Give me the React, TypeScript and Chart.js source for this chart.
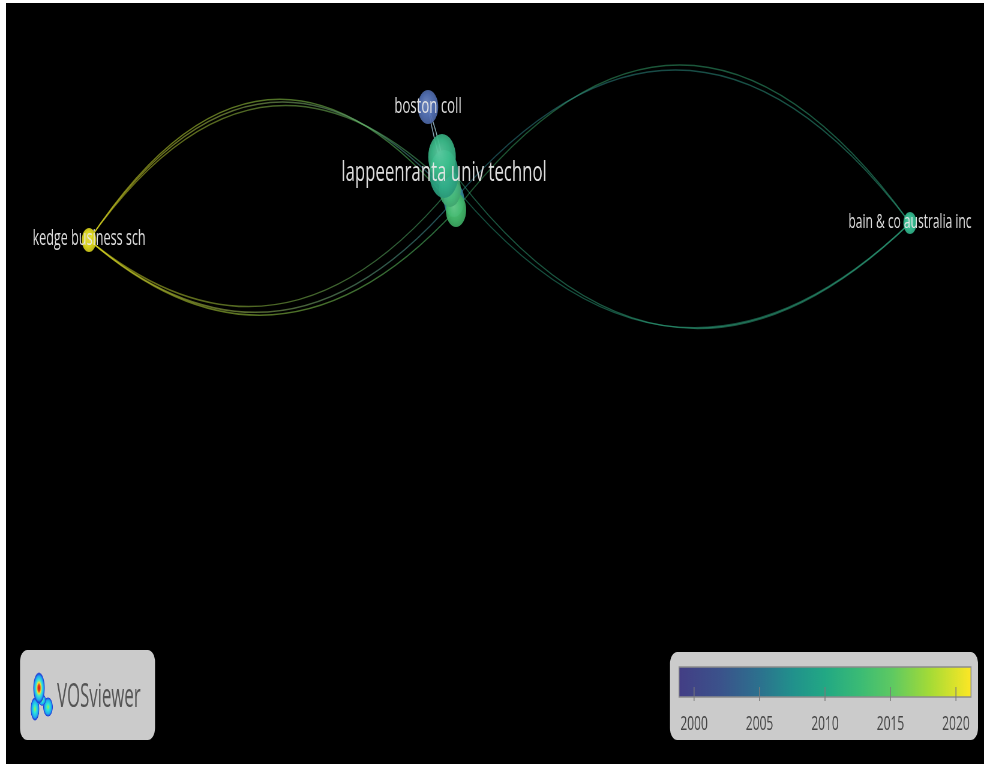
import React, { useEffect, useRef } from 'react';
import { Chart, registerables } from 'chart.js';

Chart.register(...registerables);

// ---- Data: organisations on the VOSviewer map (map units 0–100) ----
const nodeLabels = [
  'kedge business sch',
  'boston coll',
  '',
  '',
  '',
  'lappeenranta univ technol',
  '',
  'bain & co australia inc',
];
const nodeX = [8.49, 43.15, 45.81, 46.01, 45.4, 44.79, 44.58, 92.43];
const nodeY = [68.86, 86.33, 74.11, 72.8, 75.56, 77.53, 79.76, 71.09];
const nodeWeight = [12, 17, 17, 17, 18, 24, 23, 11];

// ---- Data: co-authorship links (source -> target index) ----
const linkSource = [0, 0, 0, 3, 2, 4, 3, 2, 7, 7, 1, 1];
const linkTarget = [3, 2, 4, 0, 0, 0, 7, 7, 6, 5, 6, 5];

// ---- Overlay colour scale (average publication year) ----
const yearTicks = [2000, 2005, 2010, 2015, 2020];
const yearMin = 1998.85;
const yearMax = 2021.15;

// ---- Styles ----
const nodeColors = ['#e9e21f', '#5573b8', '#3792a3', '#44be6e', '#46b97c', '#2eac88', '#3cbf8d', '#36c497'];
const nodeFont = [21, 22, 20, 20, 20, 28, 20, 20];
const linkCurvature = [0.41, 0.385, 0.357, 0.293, 0.3, 0.3, 0.4, 0.372, 0.35, 0.33, 0.06, -0.05];
const linkAlpha = [0.55, 0.55, 0.5, 0.55, 0.55, 0.5, 0.45, 0.45, 0.45, 0.45, 0.85, 0.85];
const linkColorBoost = [0, 0, 0, 0, 0, 0, 0, 0, 0, 0, 0.45, 0.45];
const barStops: [number, string][] = [
  [0, '#433e85'],
  [0.14, '#3b528b'],
  [0.28, '#2c728e'],
  [0.39, '#21918c'],
  [0.5, '#22a884'],
  [0.62, '#3bbb75'],
  [0.73, '#5ec962'],
  [0.86, '#a5db36'],
  [1, '#fde725'],
];

const CANVAS_W = 1630;
const CANVAS_H = 761;
const OFFSET_X = 6;
const OFFSET_Y = 3;
const SQ = 978 / CANVAS_W; // horizontal compression of the exported picture
const ix = (x: number) => (x - OFFSET_X) / SQ;
const iy = (y: number) => y - OFFSET_Y;

function rgba(hex: string, a: number, lighten = 0) {
  const n = parseInt(hex.slice(1), 16);
  const l = (v: number) => Math.round(lighten >= 0 ? v + (255 - v) * lighten : v * (1 + lighten));
  return `rgba(${l((n >> 16) & 255)},${l((n >> 8) & 255)},${l(n & 255)},${a})`;
}

const bgPlugin = {
  id: 'vosBackground',
  beforeDraw(chart: any) {
    const { ctx, width, height } = chart;
    ctx.save();
    ctx.fillStyle = '#000';
    ctx.fillRect(0, 0, width, height);
    ctx.restore();
  },
};

const linkPlugin = {
  id: 'vosLinks',
  beforeDatasetsDraw(chart: any) {
    const { ctx } = chart;
    const xs = chart.scales.x;
    const ys = chart.scales.y;
    ctx.save();
    for (let i = 0; i < linkSource.length; i++) {
      const s = linkSource[i];
      const t = linkTarget[i];
      const x0 = xs.getPixelForValue(nodeX[s]);
      const y0 = ys.getPixelForValue(nodeY[s]);
      const x2 = xs.getPixelForValue(nodeX[t]);
      const y2 = ys.getPixelForValue(nodeY[t]);
      const dx = x2 - x0;
      const dy = y2 - y0;
      const k = linkCurvature[i];
      const cx = (x0 + x2) / 2 + k * dy;
      const cy = (y0 + y2) / 2 - k * dx;
      const g = ctx.createLinearGradient(x0, y0, x2, y2);
      g.addColorStop(0, rgba(nodeColors[s], linkAlpha[i], linkColorBoost[i]));
      g.addColorStop(1, rgba(nodeColors[t], linkAlpha[i], linkColorBoost[i]));
      ctx.strokeStyle = g;
      ctx.lineWidth = 1.5;
      ctx.beginPath();
      ctx.moveTo(x0, y0);
      ctx.quadraticCurveTo(cx, cy, x2, y2);
      ctx.stroke();
    }
    ctx.restore();
  },
};

const labelPlugin = {
  id: 'vosLabels',
  afterDatasetsDraw(chart: any) {
    const { ctx } = chart;
    const xs = chart.scales.x;
    const ys = chart.scales.y;
    ctx.save();
    ctx.textAlign = 'center';
    ctx.textBaseline = 'alphabetic';
    ctx.fillStyle = 'rgba(232,232,232,0.95)';
    for (let i = 0; i < nodeLabels.length; i++) {
      if (!nodeLabels[i]) continue;
      const f = nodeFont[i];
      ctx.font = `${f}px "Open Sans"`;
      const x = xs.getPixelForValue(nodeX[i]);
      const y = ys.getPixelForValue(nodeY[i]);
      ctx.fillText(nodeLabels[i], x, y + 0.25 * f);
    }
    ctx.restore();
  },
};

function blob(ctx: CanvasRenderingContext2D, cx: number, cy: number, rx: number, ry: number, stops: [number, string][]) {
  ctx.save();
  ctx.translate(ix(cx), iy(cy));
  const r = rx / SQ;
  ctx.scale(1, ry / r);
  const g = ctx.createRadialGradient(0, 0, 0, 0, 0, r);
  stops.forEach(([p, c]) => g.addColorStop(p, c));
  ctx.fillStyle = g;
  ctx.beginPath();
  ctx.arc(0, 0, r, 0, Math.PI * 2);
  ctx.fill();
  ctx.restore();
}

const legendPlugin = {
  id: 'vosLegend',
  afterDraw(chart: any) {
    const { ctx } = chart;
    ctx.save();
    // VOSviewer logo box
    ctx.fillStyle = '#cbcbcb';
    ctx.beginPath();
    ctx.roundRect(ix(20), iy(650), ix(155) - ix(20), 90, 12);
    ctx.fill();
    const heat: [number, string][] = [
      [0, '#d81010'],
      [0.2, '#e8401a'],
      [0.34, '#f0e030'],
      [0.5, '#40e8d0'],
      [0.75, '#1ea8f0'],
      [0.9, '#2040d8'],
      [1, 'rgba(32,64,216,0)'],
    ];
    const cool: [number, string][] = [
      [0, '#a8f040'],
      [0.3, '#30e8d8'],
      [0.7, '#1ea8f0'],
      [0.9, '#2040d8'],
      [1, 'rgba(32,64,216,0)'],
    ];
    blob(ctx, 35, 709, 4.5, 12, cool);
    blob(ctx, 48, 707, 5, 10, cool);
    blob(ctx, 42, 700, 4, 6, cool);
    blob(ctx, 39, 688, 6, 16, heat);
    ctx.fillStyle = '#555555';
    ctx.textAlign = 'left';
    ctx.textBaseline = 'alphabetic';
    ctx.font = '32px "Open Sans"';
    ctx.save();
    ctx.translate(ix(57), iy(707));
    ctx.scale(28 / 32, 1);
    ctx.fillText('VOSviewer', 0, 0);
    ctx.restore();

    // colour scale box
    ctx.fillStyle = '#cbcbcb';
    ctx.beginPath();
    ctx.roundRect(ix(670), iy(652), ix(978) - ix(670), 88, 12);
    ctx.fill();
    const bx0 = ix(679);
    const bx1 = ix(971);
    const by0 = iy(667);
    const by1 = iy(697);
    const g = ctx.createLinearGradient(bx0, 0, bx1, 0);
    barStops.forEach(([p, c]) => g.addColorStop(p, c));
    ctx.fillStyle = g;
    ctx.fillRect(bx0, by0, bx1 - bx0, by1 - by0);
    ctx.strokeStyle = '#8c8c8c';
    ctx.lineWidth = 1.5;
    ctx.strokeRect(bx0, by0, bx1 - bx0, by1 - by0);
    ctx.strokeStyle = '#7a7a7a';
    ctx.fillStyle = '#444444';
    ctx.font = '20px "Open Sans"';
    ctx.textAlign = 'center';
    yearTicks.forEach((yr) => {
      const x = bx0 + ((yr - yearMin) / (yearMax - yearMin)) * (bx1 - bx0);
      ctx.beginPath();
      ctx.moveTo(x, iy(687));
      ctx.lineTo(x, iy(701));
      ctx.stroke();
      ctx.fillText(String(yr), x, iy(730));
    });
    ctx.restore();
  },
};

function nodeFill(c: any) {
  const i = c.dataIndex;
  const base = nodeColors[i] || '#888888';
  const chart = c.chart;
  if (!chart || !chart.scales || !chart.scales.x || i === undefined) return rgba(base, 0.92);
  const x = chart.scales.x.getPixelForValue(nodeX[i]);
  const y = chart.scales.y.getPixelForValue(nodeY[i]);
  const r = nodeWeight[i];
  if (!isFinite(x) || !isFinite(y)) return rgba(base, 0.92);
  const g = chart.ctx.createRadialGradient(x - 0.25 * r, y - 0.25 * r, 0, x, y, r);
  g.addColorStop(0, rgba(base, 0.94, 0.18));
  g.addColorStop(0.65, rgba(base, 0.93, 0));
  g.addColorStop(1, rgba(base, 0.92, -0.12));
  return g;
}

export default function App() {
  const ref = useRef<HTMLCanvasElement | null>(null);
  useEffect(() => {
    if (!ref.current) return;
    const chart = new Chart(ref.current, {
      type: 'bubble',
      data: {
        datasets: [
          {
            data: nodeX.map((x, i) => ({ x, y: nodeY[i], r: nodeWeight[i] })),
            backgroundColor: nodeFill,
            borderWidth: 0,
          },
        ],
      },
      options: {
        responsive: false,
        devicePixelRatio: 1,
        animation: false,
        events: [],
        layout: { padding: 0, autoPadding: false },
        scales: {
          x: { type: 'linear', min: 0, max: 100, display: false },
          y: { type: 'linear', min: 0, max: 100, display: false },
        },
        plugins: { legend: { display: false }, tooltip: { enabled: false } },
      },
      plugins: [bgPlugin, linkPlugin, labelPlugin, legendPlugin],
    } as any);
    return () => chart.destroy();
  }, []);
  return (
    <div style={{ position: 'fixed', left: OFFSET_X, top: OFFSET_Y, width: 978, height: 761, background: '#000' }}>
      <canvas
        ref={ref}
        width={CANVAS_W}
        height={CANVAS_H}
        style={{ width: '978px', height: '761px', display: 'block' }}
      />
    </div>
  );
}
